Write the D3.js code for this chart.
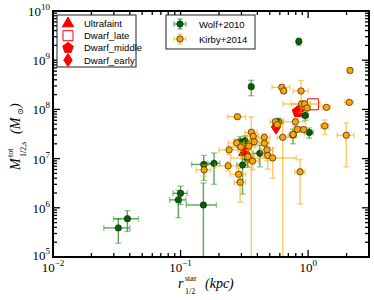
<!DOCTYPE html>
<html>
<head>
<meta charset="utf-8">
<script src="https://cdn.jsdelivr.net/npm/d3@7"></script>
<style>
  body { margin: 0; background: #fff; }
  svg { display: block; }
</style>
</head>
<body>
<div id="chart"></div>
<script>
// Wolf+2010 (green)
const wolfR    = [0.0325, 0.0383, 0.100, 0.096, 0.151, 0.152, 0.183, 0.306, 0.293, 0.320, 0.418, 0.335, 0.587, 0.76, 1.02, 0.95, 0.845, 0.358];
const wolfRErr = [0.0075, 0.0085, 0.013, 0.014, 0.040, 0.030, 0.020, 0.030, 0.030, 0.030, 0.050, 0.030, 0.050, 0.05, 0.08, 0.05, 0.020, 0.010];
const wolfM    = [3.9e5, 6.0e5, 1.97e6, 1.45e6, 1.14e6, 7.6e6, 8.0e6, 7.4e6, 2.2e7, 2.3e7, 1.28e7, 9.7e6, 5.6e7, 3.0e7, 3.4e7, 7.5e7, 2.4e9, 2.9e8];
const wolfMErr = [2.0e5, 2.7e5, 0.8e6, 0.82e6, 2.05e6, 4.0e6, 5.0e6, 5.5e6, 6.0e6, 6.0e6, 6.0e6, 3.0e6, 1.0e7, 1.0e7, 0.8e7, 1.5e7, 0.4e9, 1.0e8];

// Kirby+2014 (orange)
const kirbyR    = [2.13, 2.10, 0.621, 0.644, 0.88, 0.89, 0.938, 0.982, 1.39, 0.279, 0.553, 0.573, 0.794, 0.824, 0.922, 1.35, 1.99, 0.762, 0.632, 0.359, 0.371, 0.453, 0.276, 0.378, 0.453, 0.343, 0.297, 0.240, 0.476, 0.482, 0.527, 0.337, 0.367, 0.236, 0.153, 0.285, 0.293, 0.865];
const kirbyRErr = [0.05, 0.17, 0.10, 0.03, 0.12, 0.15, 0.30, 0.05, 0.10, 0.045, 0.05, 0.03, 0.16, 0.05, 0.05, 0.10, 0.30, 0.04, 0.06, 0.04, 0.04, 0.05, 0.04, 0.04, 0.04, 0.04, 0.04, 0.04, 0.05, 0.04, 0.28, 0.04, 0.04, 0.05, 0.02, 0.04, 0.03, 0.08];
const kirbyM    = [6.2e8, 1.39e8, 2.81e8, 2.37e8, 2.37e8, 1.29e8, 1.29e8, 1.07e8, 1.10e8, 7.1e7, 5.6e7, 4.9e7, 5.6e7, 3.94e7, 3.9e7, 4.6e7, 2.98e7, 3.09e7, 2.71e7, 3.43e7, 2.84e7, 2.69e7, 2.08e7, 2.2e7, 2.05e7, 1.8e7, 1.72e7, 1.5e7, 1.5e7, 1.16e7, 1.03e7, 1.09e7, 8.9e6, 7.1e6, 5.9e6, 4.8e6, 3.3e6, 5.4e6];
const kirbyMErr = [0.3e8, 0.1e8, 0.3e8, 0.2e8, 1.5e8, 0.2e8, 0.2e8, 0.1e8, 0.1e8, 0.5e7, 0.5e7, 0.4e7, 1.0e7, 0.5e7, 0.5e7, 1.5e7, 2.3e7, 0.5e7, 3.0e7, 3.6e7, 0.4e7, 0.5e7, 0.4e7, 0.4e7, 0.5e7, 0.3e7, 0.3e7, 0.3e7, 0.6e7, 5.5e6, 6.3e6, 0.4e7, 0.3e7, 1.5e6, 1.5e6, 1.5e6, 2.0e6, 4.2e6];

// red reference markers
const refNames = ["Ultrafaint", "Dwarf_late", "Dwarf_middle", "Dwarf_early"];
const refShapes = ["triangle", "square", "pentagon", "diamond"];
const refR = [0.319, 1.09, 0.834, 0.56];
const refM = [1.36e7, 1.27e8, 9.0e7, 4.4e7];

const xTicks = [0.01, 0.1, 1];
const xTickExp = ["\u22122", "\u22121", "0"];
const yTicks = [1e5, 1e6, 1e7, 1e8, 1e9, 1e10];
const yTickExp = ["5", "6", "7", "8", "9", "10"];

const width = 374, height = 300;
const margin = { top: 11, right: 5, bottom: 43, left: 53 };
const iw = width - margin.left - margin.right;
const ih = height - margin.top - margin.bottom;

const svg = d3.select("#chart").append("svg")
  .attr("width", width)
  .attr("height", height);

const g = svg.append("g").attr("transform", `translate(${margin.left},${margin.top})`);

const x = d3.scaleLog().domain([0.01, 3]).range([0, iw]);
const y = d3.scaleLog().domain([1e5, 1e10]).range([ih, 0]);

const serif = "'Liberation Serif', 'DejaVu Serif', serif";
const sans = "'Liberation Sans', Arial, sans-serif";

const plot = g.append("g");
plot.append("clipPath").attr("id", "clip")
  .append("rect").attr("width", iw).attr("height", ih);
const marks = plot.append("g").attr("clip-path", "url(#clip)");

// symbol helpers
function shapePath(shape, s) {
  if (shape === "triangle") return d3.symbol(d3.symbolTriangle, s * s * 0.55)();
  if (shape === "square") return `M${-s/2},${-s/2}h${s}v${s}h${-s}Z`;
  if (shape === "diamond") return `M0,${-s*0.65}L${s*0.42},0L0,${s*0.65}L${-s*0.42},0Z`;
  if (shape === "pentagon") {
    const pts = d3.range(5).map(i => {
      const a = -Math.PI / 2 + i * 2 * Math.PI / 5;
      return [Math.cos(a) * s * 0.55, Math.sin(a) * s * 0.55];
    });
    return "M" + pts.map(p => p.join(",")).join("L") + "Z";
  }
}

// red markers
refShapes.forEach((sh, i) => {
  marks.append("path")
    .attr("d", shapePath(sh, 11))
    .attr("transform", `translate(${x(refR[i])},${y(refM[i])})`)
    .attr("fill", sh === "square" ? "none" : "red")
    .attr("stroke", "red")
    .attr("stroke-width", 1);
});

function drawSeries(R, RE, M, ME, lineColor, capColor, fill) {
  const grp = marks.append("g");
  const cap = 3;
  R.forEach((r, i) => {
    const cx = x(r), cy = y(M[i]);
    const x0 = x(Math.max(r - RE[i], 1e-4)), x1 = x(r + RE[i]);
    const lo = M[i] - ME[i];
    const y0 = lo > 0 ? y(lo) : ih + 20, y1 = y(M[i] + ME[i]);
    const e = grp.append("g");
    e.append("line").attr("x1", x0).attr("x2", x1).attr("y1", cy).attr("y2", cy)
      .attr("stroke", lineColor).attr("stroke-width", 1.4);
    e.append("line").attr("x1", cx).attr("x2", cx).attr("y1", y0).attr("y2", y1)
      .attr("stroke", lineColor).attr("stroke-width", 1.4);
    [[x0, cy, true], [x1, cy, true], [cx, y0, false], [cx, y1, false]].forEach(c => {
      e.append("line")
        .attr("x1", c[2] ? c[0] : c[0] - cap).attr("x2", c[2] ? c[0] : c[0] + cap)
        .attr("y1", c[2] ? c[1] - cap : c[1]).attr("y2", c[2] ? c[1] + cap : c[1])
        .attr("stroke", capColor).attr("stroke-width", 1.4);
    });
  });
  grp.selectAll("circle").data(R).enter().append("circle")
    .attr("cx", d => x(d))
    .attr("cy", (d, i) => y(M[i]))
    .attr("r", 3.2)
    .attr("fill", fill)
    .attr("stroke", "#222")
    .attr("stroke-width", 0.7);
}

drawSeries(wolfR, wolfRErr, wolfM, wolfMErr, "rgba(34,139,34,0.75)", "rgba(34,139,34,0.45)", "#006400");
drawSeries(kirbyR, kirbyRErr, kirbyM, kirbyMErr, "rgba(255,165,0,0.6)", "rgba(255,165,0,0.5)", "#FFA500");

// ticks (inward, all four sides)
function minorTicks(domain) {
  const t = [];
  for (let e = Math.floor(Math.log10(domain[0])); e <= Math.ceil(Math.log10(domain[1])); e++) {
    for (let k = 1; k < 10; k++) {
      const v = k * Math.pow(10, e);
      if (v >= domain[0] && v <= domain[1]) t.push(v);
    }
  }
  return t;
}
const axes = g.append("g").attr("stroke", "#000");
const xMin = minorTicks(x.domain());
const yMin = minorTicks(y.domain());
const isMajor = v => Math.abs(Math.log10(v) - Math.round(Math.log10(v))) < 1e-9;

xMin.forEach(v => {
  const len = isMajor(v) ? 7 : 4;
  const px = x(v);
  axes.append("line").attr("x1", px).attr("x2", px).attr("y1", ih).attr("y2", ih - len).attr("stroke-width", 1.3);
  axes.append("line").attr("x1", px).attr("x2", px).attr("y1", 0).attr("y2", len).attr("stroke-width", 1.3);
});
yMin.forEach(v => {
  const len = isMajor(v) ? 7 : 4;
  const py = y(v);
  axes.append("line").attr("x1", 0).attr("x2", len).attr("y1", py).attr("y2", py).attr("stroke-width", 1.3);
  axes.append("line").attr("x1", iw).attr("x2", iw - len).attr("y1", py).attr("y2", py).attr("stroke-width", 1.3);
});

g.append("rect").attr("width", iw).attr("height", ih)
  .attr("fill", "none").attr("stroke", "#000").attr("stroke-width", 2);

// tick labels
xTicks.forEach((v, i) => {
  const t = g.append("text")
    .attr("x", x(v)).attr("y", ih + 15)
    .attr("text-anchor", "middle")
    .attr("font-family", serif).attr("font-size", 13);
  t.append("tspan").text("10");
  t.append("tspan").attr("dy", -6).attr("font-size", 9).text(xTickExp[i]);
});
yTicks.forEach((v, i) => {
  const t = g.append("text")
    .attr("x", -3).attr("y", y(v) + (i === 0 ? 3 : 5))
    .attr("text-anchor", "end")
    .attr("font-family", serif).attr("font-size", 13);
  t.append("tspan").text("10");
  t.append("tspan").attr("dy", -6).attr("font-size", 9).text(yTickExp[i]);
});

// x axis label: r^star_1/2 (kpc)
const xlab = svg.append("g").attr("font-family", serif);
xlab.append("text").attr("x", 178).attr("y", 288).attr("font-size", 14).attr("font-style", "italic").text("r");
xlab.append("text").attr("x", 185).attr("y", 281).attr("font-size", 8).text("star");
xlab.append("text").attr("x", 185).attr("y", 294).attr("font-size", 8).text("1/2");
xlab.append("text").attr("x", 205).attr("y", 288).attr("font-size", 14).attr("font-style", "italic").text("(kpc)");

// y axis label: M^tot_1/2,s (M_sun)
const ylab = svg.append("g").attr("font-family", serif).attr("transform", "rotate(-90)");
ylab.append("text").attr("x", -170).attr("y", 20).attr("font-size", 14).attr("font-style", "italic").text("M");
ylab.append("text").attr("x", -157).attr("y", 13).attr("font-size", 8).text("tot");
ylab.append("text").attr("x", -157).attr("y", 26).attr("font-size", 8).text("1/2,s");
ylab.append("text").attr("x", -134).attr("y", 20).attr("font-size", 14).attr("font-style", "italic").text("(M");
ylab.append("text").attr("x", -115).attr("y", 23).attr("font-size", 8).text("\u2299");
ylab.append("text").attr("x", -108).attr("y", 20).attr("font-size", 14).attr("font-style", "italic").text(")");

// legend 1: reference markers
const leg1 = svg.append("g").attr("transform", "translate(57,15)");
leg1.append("rect").attr("width", 79).attr("height", 52)
  .attr("fill", "#fff").attr("stroke", "#222").attr("stroke-width", 1);
refNames.forEach((n, i) => {
  const yy = 8.5 + i * 12.2;
  leg1.append("path")
    .attr("d", shapePath(refShapes[i], 10))
    .attr("transform", `translate(11,${yy})`)
    .attr("fill", refShapes[i] === "square" ? "none" : "red")
    .attr("stroke", "red").attr("stroke-width", 1);
  leg1.append("text").attr("x", 27).attr("y", yy + 3.5)
    .attr("font-family", sans).attr("font-size", 9.5).text(n);
});

// legend 2: data sets
const setNames = ["Wolf+2010", "Kirby+2014"];
const setFill = ["#006400", "#FFA500"];
const setLine = ["rgba(34,139,34,0.75)", "rgba(255,165,0,0.6)"];
const leg2 = svg.append("g").attr("transform", "translate(166,15)");
leg2.append("rect").attr("width", 89).attr("height", 34)
  .attr("fill", "#fff").attr("stroke", "#222").attr("stroke-width", 1);
setNames.forEach((n, i) => {
  const yy = 9 + i * 15;
  const gg = leg2.append("g").attr("transform", `translate(14,${yy})`);
  gg.append("line").attr("x1", -6).attr("x2", 6).attr("stroke", setLine[i]).attr("stroke-width", 1.4);
  gg.append("line").attr("y1", -5).attr("y2", 5).attr("stroke", setLine[i]).attr("stroke-width", 1.4);
  [[-6, 0, 1], [6, 0, 1], [0, -5, 0], [0, 5, 0]].forEach(c => {
    gg.append("line")
      .attr("x1", c[2] ? c[0] : -2.5).attr("x2", c[2] ? c[0] : 2.5)
      .attr("y1", c[2] ? -2.5 : c[1]).attr("y2", c[2] ? 2.5 : c[1])
      .attr("stroke", setLine[i]).attr("stroke-width", 1.2);
  });
  gg.append("circle").attr("r", 3.2).attr("fill", setFill[i]).attr("stroke", "#222").attr("stroke-width", 0.7);
  leg2.append("text").attr("x", 33).attr("y", yy + 3.5)
    .attr("font-family", sans).attr("font-size", 9.5).text(n);
});
</script>
</body>
</html>
